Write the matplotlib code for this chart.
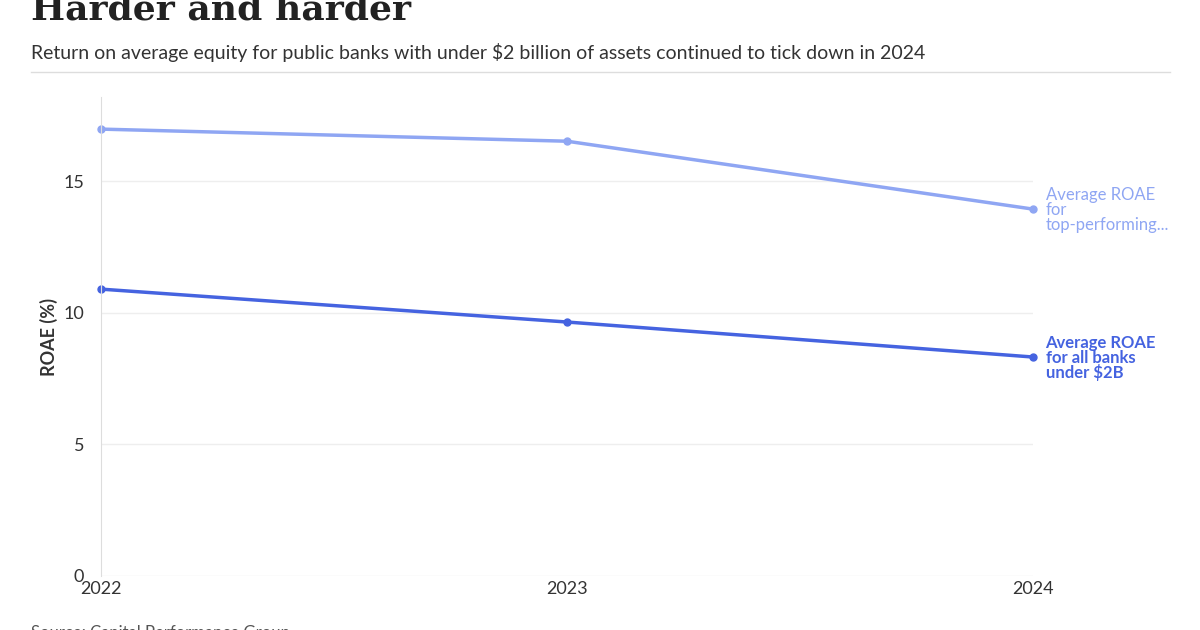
import matplotlib.pyplot as plt

years = [2022, 2023, 2024]
top_roae = [16.98, 16.52, 13.94]
all_roae = [10.9, 9.65, 8.32]
yticks = [0, 5, 10, 15]

c_top = '#8fa6f3'
c_all = '#4563e0'

plt.rcParams['font.family'] = ['Lato', 'DejaVu Sans']

fig = plt.figure(figsize=(12, 6.3), dpi=100)
ax = fig.add_axes([101/1200, 54/630, (1033-101)/1200, (576-97)/630])

ax.plot(years, top_roae, color=c_top, lw=2.5, marker='o', ms=5, clip_on=False)
ax.plot(years, all_roae, color=c_all, lw=2.5, marker='o', ms=5, clip_on=False)

ax.set_xlim(2022, 2024)
ax.set_ylim(0, 18.2)
ax.set_xticks(years)
ax.set_yticks(yticks)
ax.tick_params(axis='both', length=0, labelsize=13, colors='#333333')
ax.tick_params(axis='y', pad=12)
ax.grid(axis='y', color='#eeeeee', lw=1)
for s in ['top', 'right', 'bottom']:
    ax.spines[s].set_visible(False)
ax.spines['left'].set_color('#dddddd')
ax.set_ylabel('ROAE (%)', fontsize=13, color='#333333', fontweight='bold')

ax.text(2024.027, top_roae[2] + 0.85, 'Average ROAE\nfor\ntop-performing...',
        color=c_top, fontsize=12, va='top', linespacing=0.92)
ax.text(2024.027, all_roae[2] + 0.85, 'Average ROAE\nfor all banks\nunder $2B',
        color=c_all, fontsize=12, va='top', fontweight='bold', linespacing=0.92)

fig.text(0.026, 0.985, 'Harder and harder', fontsize=26, fontweight='bold',
         family='DejaVu Serif', va='center', color='#222222')
fig.text(0.026, 0.916, 'Return on average equity for public banks with under $2 billion of assets continued to tick down in 2024',
         fontsize=14, color='#333333', va='center')
fig.add_artist(plt.Line2D([0.026, 0.975], [0.885, 0.885], color='#dddddd', lw=1))
fig.text(0.026, -0.005, 'Source: Capital Performance Group', fontsize=12, color='#555555', va='center')

fig.savefig('out.png', dpi=100)
